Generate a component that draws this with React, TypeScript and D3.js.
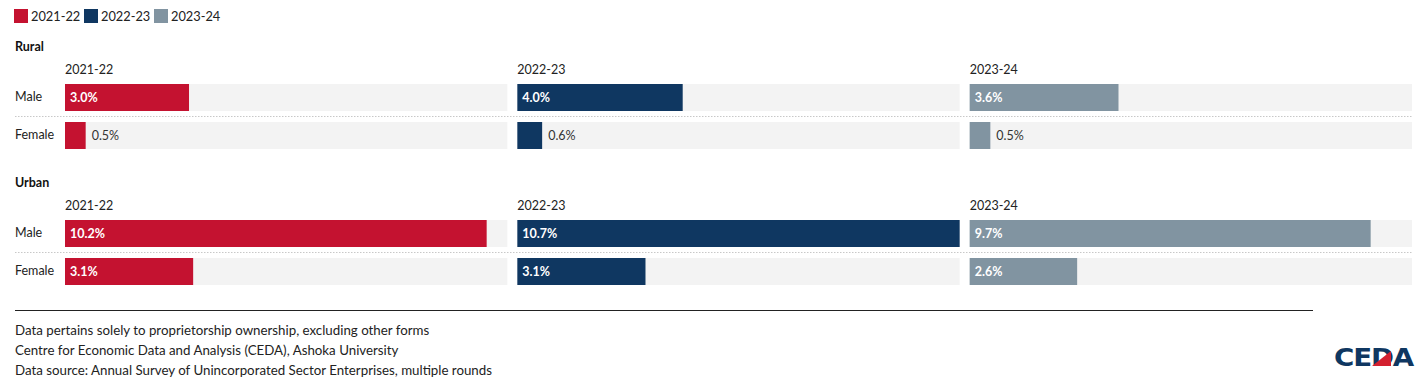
import React from "react";
import * as d3 from "d3";

const years = ["2021-22", "2022-23", "2023-24"];
const areas = ["Rural", "Urban"];
const genders = ["Male", "Female"];
const ruralMale = [3.0, 4.0, 3.6];
const ruralFemale = [0.5, 0.6, 0.5];
const urbanMale = [10.2, 10.7, 9.7];
const urbanFemale = [3.1, 3.1, 2.6];
const colors = ["#c41230", "#0f3761", "#8194a1"];
const footnotes = [
  "Data pertains solely to proprietorship ownership, excluding other forms",
  "Centre for Economic Data and Analysis (CEDA), Ashoka University",
  "Data source: Annual Survey of Unincorporated Sector Enterprises, multiple rounds",
];

const W = 1427;
const H = 384;
const FONT = "Lato, 'Noto Sans', sans-serif";

export default function App() {
  const values: Record<string, number[][]> = {
    Rural: [ruralMale, ruralFemale],
    Urban: [urbanMale, urbanFemale],
  };
  const panelX = d3.scaleBand<string>().domain(years).range([65, 1412]).paddingInner(10 / 452).paddingOuter(0);
  const pw = panelX.bandwidth();
  const x = d3.scaleLinear().domain([0, 10.7]).range([0, pw]);
  const sectionTop: Record<string, number> = { Rural: 0, Urban: 136 };

  return (
    <svg width={W} height={H} style={{ position: "absolute", left: 0, top: 0, fontFamily: FONT }}>
      {years.map((y, i) => (
        <g key={y} transform={`translate(${14 + i * 70},9)`}>
          <rect width={14} height={14} fill={colors[i]} />
          <text x={17} y={11.5} fontSize={12.8} fill="#222">{y}</text>
        </g>
      ))}
      {areas.map((a) => {
        const t = sectionTop[a];
        return (
          <g key={a} transform={`translate(0,${t})`}>
            <text x={15} y={51} fontSize={12.5} fontWeight={700} fill="#111">{a}</text>
            <line x1={15} x2={1412} y1={116.5} y2={116.5} stroke="#c8c8c8" strokeDasharray="1.5,1.5" />
            {genders.map((g, gi) => (
              <text key={g} x={15} y={gi === 0 ? 101 : 139} fontSize={12.5} fill="#222">{g}</text>
            ))}
            {years.map((yr, yi) => {
              const px = panelX(yr) as number;
              return (
                <g key={yr} transform={`translate(${px},0)`}>
                  <text x={0} y={74} fontSize={12.5} fill="#222">{yr}</text>
                  {genders.map((g, gi) => {
                    const v = values[a][gi][yi];
                    const by = gi === 0 ? 84 : 122;
                    const bw = x(v);
                    const inside = bw > 40;
                    return (
                      <g key={g}>
                        <rect x={0} y={by} width={pw} height={27} fill="#f3f3f3" />
                        <rect x={0} y={by} width={bw} height={27} fill={colors[yi]} />
                        <text
                          x={inside ? 5 : bw + 6}
                          y={by + 18}
                          fontSize={12.5}
                          fontWeight={inside ? 700 : 400}
                          fill={inside ? "#fff" : "#333"}
                        >
                          {v.toFixed(1)}%
                        </text>
                      </g>
                    );
                  })}
                </g>
              );
            })}
          </g>
        );
      })}
      <line x1={15} x2={1313} y1={310.5} y2={310.5} stroke="#222" strokeWidth={1} />
      {footnotes.map((f, i) => (
        <text key={i} x={15} y={334.5 + i * 20} fontSize={13.3} fill="#222">{f}</text>
      ))}
      <g transform="translate(1334,366)">
        <text x={0} y={0} fontSize={24} fontWeight={900} fill="#0f3761" fontFamily="'DejaVu Sans', sans-serif" letterSpacing={-1} textLength={79} lengthAdjust="spacingAndGlyphs">CEDA</text>
        <polygon points="38,0 57,0 57,-15" fill="#d3202f" />
      </g>
    </svg>
  );
}
